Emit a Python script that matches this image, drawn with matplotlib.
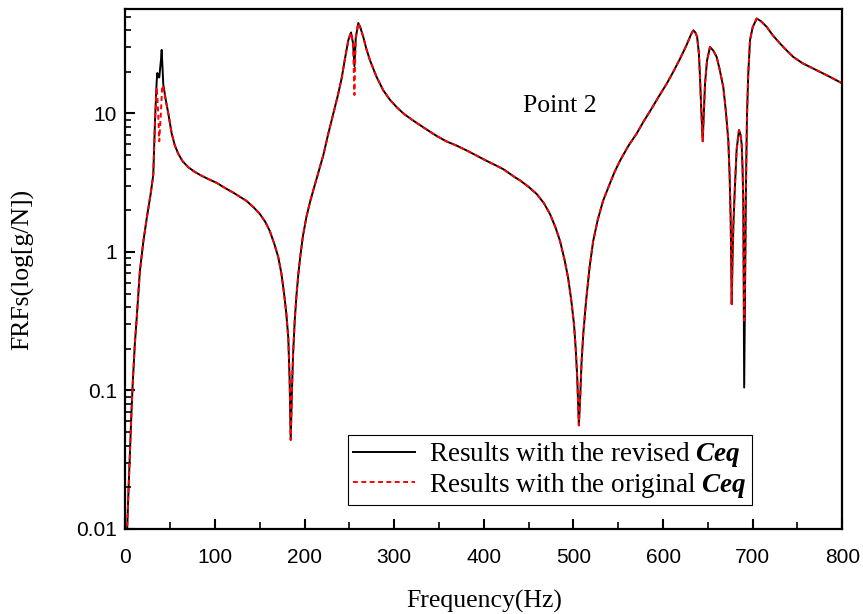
import matplotlib
matplotlib.use("Agg")
import matplotlib.pyplot as plt

# --- data (Hz, g/N) ---
freq = [1, 2, 3.5, 5, 6.5, 8, 10.5, 12.5, 16, 20,
        24, 28, 31, 33, 34.8, 35.5, 36.5, 37.7, 39.5, 40.4,
        41, 42.2, 45, 47.8, 51.5, 55, 59, 64, 70, 77,
        85, 93, 102, 111, 120, 128, 135, 143, 150, 156,
        161, 166, 170.5, 174, 177, 179.5, 181.7, 183.2, 184.4, 185.8,
        187, 189, 191, 193, 195, 198, 202, 206, 210, 215,
        220.8, 226, 232, 237, 241.3, 245, 248.7, 251.7, 254, 255.5,
        257, 259.8, 262, 265.4, 269, 272.9, 280, 287.7, 295, 302.7,
        311, 321, 333, 347, 358, 369.6, 381, 392, 403, 414,
        422, 429, 435, 440, 450, 459, 467, 473.8, 480, 485,
        490, 494, 497.5, 500.6, 502.5, 504.2, 506, 507.5, 509, 511,
        514, 518, 522, 527, 533, 540, 546, 552, 561, 570.5,
        578, 587, 595, 604, 611, 619, 626, 631, 633.7, 636,
        638, 640, 641.2, 642.8, 644.2, 645.5, 646.8, 649, 652.3, 656,
        659.8, 663, 667.2, 670, 672.8, 674.3, 675.4, 676.6, 677.5, 678.5,
        680, 682.1, 684.7, 686.5, 687.7, 688.7, 689.5, 690.5, 691.5, 692.5,
        693.6, 695, 697, 700, 704.5, 709, 715.7, 722, 730.5, 738,
        745.3, 756, 767.6, 784, 800]

frf_revised = [0.006, 0.0105, 0.02, 0.036, 0.065, 0.11, 0.22, 0.33, 0.72, 1.2,
               1.8, 2.6, 3.6, 9.0, 17, 19.6, 18.5, 18.2, 24, 28.8,
               24, 16.2, 12.5, 10, 7.2, 5.9, 5.1, 4.5, 4.1, 3.8,
               3.55, 3.35, 3.15, 2.9, 2.69, 2.5, 2.34, 2.1, 1.88, 1.65,
               1.42, 1.15, 0.92, 0.7, 0.5, 0.36, 0.24, 0.12, 0.044, 0.1,
               0.18, 0.33, 0.5, 0.7, 0.92, 1.3, 1.8, 2.3, 2.85, 3.7,
               5.0, 7, 10, 13.5, 18, 25, 33.8, 38.5, 32, 22,
               35, 45, 42, 35.7, 29, 24.2, 18.5, 14.7, 12.6, 11.1,
               9.9, 8.9, 7.9, 6.9, 6.3, 5.86, 5.4, 4.96, 4.55, 4.2,
               3.95, 3.67, 3.45, 3.3, 2.95, 2.62, 2.25, 1.88, 1.5, 1.2,
               0.88, 0.65, 0.45, 0.30, 0.2, 0.123, 0.056, 0.09, 0.16, 0.26,
               0.44, 0.78, 1.2, 1.7, 2.34, 3.05, 3.8, 4.57, 5.8, 7.16,
               8.7, 10.8, 13.2, 16.4, 19.8, 24.9, 31, 37, 39.9, 38.5,
               35.7, 27, 18.3, 10, 6.3, 10, 16.4, 24, 30.2, 28.5,
               25.6, 21, 15.5, 10.5, 6.4, 3.5, 1.77, 0.42, 0.9, 1.6,
               2.8, 5.5, 7.6, 7, 6, 4, 2.3, 0.105, 0.6, 3,
               9.4, 19, 33.8, 42, 48.5, 46.5, 42.2, 37, 32, 28.5,
               25.6, 23, 21.1, 18.7, 16.5]

frf_original = [0.006, 0.0105, 0.02, 0.036, 0.065, 0.11, 0.22, 0.33, 0.72, 1.2,
                1.8, 2.6, 3.6, 9.0, 15.5, 13.5, 10, 6.3, 10, 13.5,
                16, 15.5, 12.5, 10, 7.2, 5.9, 5.1, 4.5, 4.1, 3.8,
                3.55, 3.35, 3.15, 2.9, 2.69, 2.5, 2.34, 2.1, 1.88, 1.65,
                1.42, 1.15, 0.92, 0.7, 0.5, 0.36, 0.24, 0.12, 0.044, 0.1,
                0.18, 0.33, 0.5, 0.7, 0.92, 1.3, 1.8, 2.3, 2.85, 3.7,
                5.0, 7, 10, 13.5, 18, 25, 33.8, 38.5, 32, 13.6,
                35, 45, 42, 35.7, 29, 24.2, 18.5, 14.7, 12.6, 11.1,
                9.9, 8.9, 7.9, 6.9, 6.3, 5.86, 5.4, 4.96, 4.55, 4.2,
                3.95, 3.67, 3.45, 3.3, 2.95, 2.62, 2.25, 1.88, 1.5, 1.2,
                0.88, 0.65, 0.45, 0.30, 0.2, 0.123, 0.056, 0.09, 0.16, 0.26,
                0.44, 0.78, 1.2, 1.7, 2.34, 3.05, 3.8, 4.57, 5.8, 7.16,
                8.7, 10.8, 13.2, 16.4, 19.8, 24.9, 31, 37, 39.9, 38.5,
                35.7, 27, 18.3, 10, 6.3, 10, 16.4, 24, 30.2, 28.5,
                25.6, 21, 15.5, 10.5, 6.4, 3.5, 1.77, 0.42, 0.9, 1.6,
                2.8, 5.5, 7.6, 7, 6, 4, 2.3, 0.32, 0.6, 3,
                9.4, 19, 33.8, 42, 48.5, 46.5, 42.2, 37, 32, 28.5,
                25.6, 23, 21.1, 18.7, 16.5]

x_ticks = [0, 100, 200, 300, 400, 500, 600, 700, 800]
y_ticks = [0.01, 0.1, 1, 10]
y_tick_labels = ['0.01', '0.1', '1', '10']

plt.rcParams['font.family'] = ['Liberation Serif', 'DejaVu Serif']
plt.rcParams['mathtext.fontset'] = 'custom'
plt.rcParams['mathtext.rm'] = 'Liberation Serif'
plt.rcParams['mathtext.it'] = 'Liberation Serif:italic'
plt.rcParams['mathtext.bf'] = 'Liberation Serif:bold'
plt.rcParams['mathtext.bfit'] = 'Liberation Serif:italic:bold'

fig = plt.figure(figsize=(8.63, 6.14), dpi=100)
ax = fig.add_axes([0.1454, 0.1385, 0.8306, 0.8468])

ax.plot(freq, frf_revised, color='black', lw=1.4,
        label=r'Results with the revised $\mathbfit{Ceq}$')
ax.plot(freq, frf_original, color='red', lw=1.4, linestyle=(0, (2.5, 1.8)),
        label=r'Results with the original $\mathbfit{Ceq}$')

ax.set_yscale('log')
ax.set_xlim(0, 800)
ax.set_ylim(0.01, 56.8)

tick_font = dict(family=['Liberation Sans Narrow', 'Liberation Sans'], size=15)
ax.set_xticks(x_ticks)
ax.set_xticklabels([str(t) for t in x_ticks], **tick_font)
ax.set_xticks(range(50, 800, 100), minor=True)
ax.set_yticks(y_ticks)
ax.set_yticklabels(y_tick_labels, **tick_font)
ax.tick_params(which='major', direction='in', length=7, width=1.5)
ax.tick_params(which='minor', direction='in', length=4, width=1.2)
ax.tick_params(axis='x', which='minor', length=5)
ax.tick_params(axis='x', which='major', pad=14)
ax.tick_params(axis='y', which='major', pad=6)
for s in ax.spines.values():
    s.set_linewidth(1.6)

ax.set_xlabel('Frequency(Hz)', fontsize=18.5, labelpad=16)
ax.set_ylabel('FRFs(log[g/N])', fontsize=18.5, labelpad=30)

ax.text(485, 11.3, 'Point 2', fontsize=18.5, ha='center', va='center')

leg = ax.legend(loc='lower left', bbox_to_anchor=(0.31, 0.046), fontsize=19.5,
                fancybox=False, framealpha=1, edgecolor='black',
                handlelength=2.3, borderpad=0.2, labelspacing=0.05,
                handletextpad=0.5, borderaxespad=0)
leg.get_frame().set_linewidth(0.8)

fig.savefig('out.png', dpi=100)
